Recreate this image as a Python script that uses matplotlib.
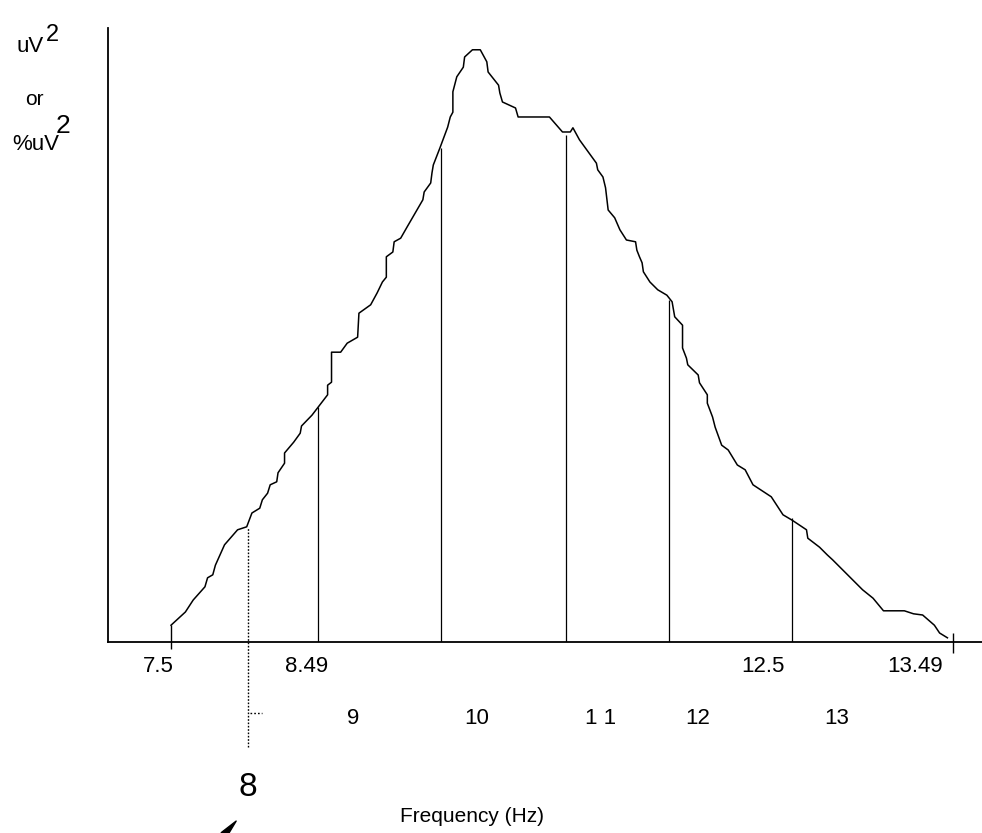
import numpy as np
import matplotlib
matplotlib.use("Agg")
import matplotlib.pyplot as plt

matplotlib.rc('font', family=['Liberation Sans', 'DejaVu Sans'])

# power spectrum trace (frequency in Hz, power in arbitrary units)
freq = [7.50, 7.61, 7.67, 7.76, 7.78, 7.82, 7.84, 7.91, 8.01, 8.08, 8.12, 8.18,
        8.20, 8.24, 8.26, 8.31, 8.32, 8.37, 8.37, 8.44, 8.49, 8.50, 8.58, 8.64,
        8.70, 8.70, 8.73, 8.73, 8.80, 8.85, 8.93, 8.94, 9.03, 9.08, 9.12, 9.15,
        9.15, 9.20, 9.21, 9.26, 9.31, 9.35, 9.43, 9.44, 9.49, 9.50, 9.51, 9.56,
        9.62, 9.64, 9.66, 9.66, 9.69, 9.74, 9.75, 9.81, 9.87, 9.92, 9.93, 10.01,
        10.02, 10.04, 10.14, 10.16, 10.40, 10.50, 10.56, 10.58, 10.63, 10.76,
        10.77, 10.81, 10.83, 10.85, 10.90, 10.94, 10.99, 11.06, 11.07, 11.09,
        11.11, 11.12, 11.17, 11.23, 11.30, 11.34, 11.36, 11.42, 11.42, 11.45,
        11.46, 11.54, 11.55, 11.61, 11.61, 11.65, 11.67, 11.72, 11.77, 11.84,
        11.90, 11.96, 12.10, 12.19, 12.26, 12.37, 12.38, 12.47, 12.53, 12.57,
        12.80, 12.88, 12.96, 13.12, 13.19, 13.26, 13.35, 13.39, 13.45]
power = [2.8, 5.0, 7.0, 9.2, 10.7, 11.2, 12.8, 16.2, 18.7, 19.2, 21.5, 22.3,
         23.7, 24.8, 26.2, 26.7, 28.2, 29.8, 31.5, 33.3, 34.8, 36.0, 37.8, 39.5,
         41.2, 42.8, 43.3, 48.3, 48.3, 49.8, 50.8, 54.8, 56.2, 58.2, 60.0, 60.8,
         64.2, 65.0, 66.7, 67.3, 69.2, 70.7, 73.7, 75.0, 76.5, 78.2, 79.5, 82.3,
         85.8, 87.5, 88.3, 91.7, 94.2, 95.8, 97.5, 98.7, 98.7, 96.7, 95.0, 92.8,
         91.5, 90.0, 89.0, 87.5, 87.5, 85.0, 85.0, 85.7, 83.7, 79.8,
         78.7, 77.5, 75.7, 72.0, 70.7, 68.7, 67.0, 66.7, 65.3, 64.2,
         63.2, 61.7, 60.0, 58.7, 57.8, 56.7, 54.2, 52.8, 49.0, 47.3,
         46.2, 44.5, 43.2, 41.2, 39.8, 37.5, 35.8, 32.8, 32.0, 29.5,
         28.7, 26.2, 24.2, 21.2, 20.3, 18.7, 17.3, 15.8, 14.5, 13.7,
         8.7, 7.3, 5.2, 5.2, 4.7, 4.5, 2.8, 1.5, 0.7]

# band boundaries drawn as vertical lines
bound_freq = [8.63, 9.57, 10.53, 11.32, 12.26]
bound_top = [39.2, 82.3, 84.5, 57.0, 20.7]
marker_freq = 8.09      # dotted line labelled 8
marker_top = 19.0
end_freq = [7.50, 13.49]

edge_labels = ["7.5", "8.49", "12.5", "13.49"]
edge_label_x = [7.40, 8.54, 12.04, 13.20]
band_labels = ["9", "10", "1 1", "12", "13"]
band_label_x = [8.895, 9.845, 10.795, 11.538, 12.603]

fig = plt.figure(figsize=(9.82, 8.33), dpi=100)
ax = fig.add_axes([108 / 982, 1 - 642 / 833, 874 / 982, 614 / 833])
ax.set_xlim(7.017, 13.715)
ax.set_ylim(0, 102.33)
for s in ['top', 'right']:
    ax.spines[s].set_visible(False)
for s in ['left', 'bottom']:
    ax.spines[s].set_linewidth(1.3)
ax.set_xticks([])
ax.set_yticks([])

ax.plot(freq, power, color='black', lw=1.1)
ax.vlines(bound_freq, 0, bound_top, color='black', lw=0.9)
ax.vlines(marker_freq, -17.5, marker_top, color='black', lw=1.0,
          linestyles=(0, (1.2, 1.2)), clip_on=False)
ax.plot([8.105, 8.197], [-11.8, -11.8], color='black', lw=1.0,
        linestyle=(0, (1.2, 1.5)), clip_on=False)
ax.vlines(end_freq[0], -1.2, power[0], color='black', lw=1.0, clip_on=False)
ax.vlines(end_freq[1], -1.8, 1.5, color='black', lw=1.0, clip_on=False)

for lab, x in zip(edge_labels, edge_label_x):
    ax.text(x, -4.0, lab, ha='center', va='center', fontsize=16, clip_on=False)
for lab, x in zip(band_labels, band_label_x):
    ax.text(x, -12.8, lab, ha='center', va='center', fontsize=16, clip_on=False)
ax.text(marker_freq, -24.2, "8", ha='center', va='center', fontsize=24, clip_on=False)
ax.text(9.81, -29.0, "Frequency (Hz)", ha='center', va='center', fontsize=15,
        clip_on=False)

fig.text(17 / 982, 1 - 52 / 833, "uV", fontsize=16, va='baseline')
fig.text(46 / 982, 1 - 41 / 833, "2", fontsize=17, va='baseline')
fig.text(25 / 982, 1 - 105 / 833, "or", fontsize=15, va='baseline')
fig.text(12 / 982, 1 - 150 / 833, "%uV", fontsize=16, va='baseline')
fig.text(56 / 982, 1 - 133 / 833, "2", fontsize=19, va='baseline')

ax.annotate("", xy=(238, 14), xycoords='figure pixels',
            xytext=(222, -4), textcoords='figure pixels',
            arrowprops=dict(arrowstyle='wedge,tail_width=0.5', color='black'))

fig.savefig("out.png", dpi=100)
